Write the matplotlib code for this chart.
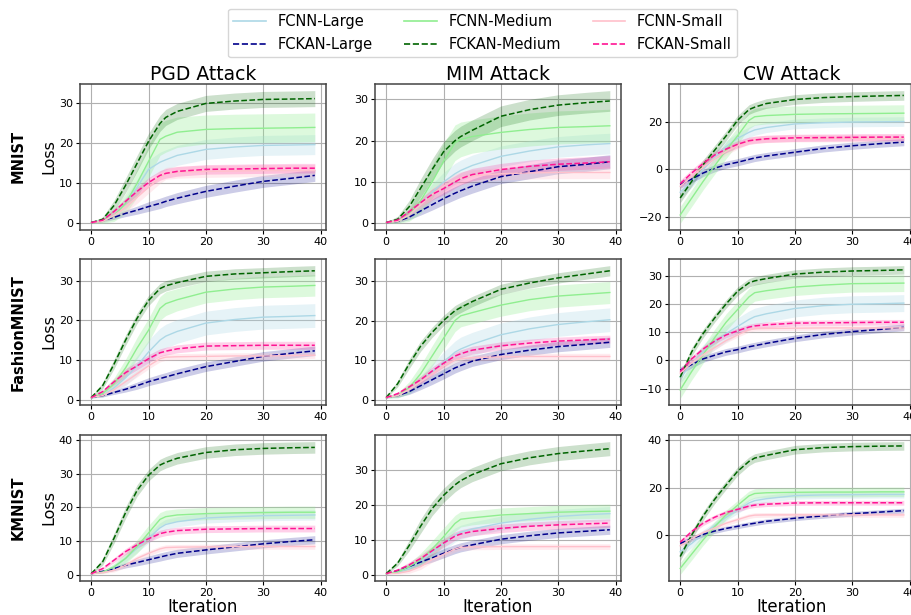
import numpy as np
import matplotlib
matplotlib.use('Agg')
import matplotlib.pyplot as plt
from matplotlib.lines import Line2D

iters = [0, 2, 4, 6, 8, 10, 12, 13, 15, 20, 25, 30, 35, 39]

series = ['FCNN-Large', 'FCKAN-Large', 'FCNN-Medium', 'FCKAN-Medium', 'FCNN-Small', 'FCKAN-Small']
datasets = ['MNIST', 'FashionMNIST', 'KMNIST']
attacks = ['PGD Attack', 'MIM Attack', 'CW Attack']

# mean loss per panel
mnist_pgd = {
    'FCNN-Large':   [0.2, 0.5, 2, 5, 9, 13.5, 15.3, 15.9, 17, 18.5, 19.1, 19.5, 19.6, 19.7],
    'FCKAN-Large':  [0.2, 0.8, 1.5, 2.5, 3.3, 4.2, 5.0, 5.5, 6.3, 8, 9.3, 10.5, 11.3, 12],
    'FCNN-Medium':  [0.2, 0.5, 2, 5, 10, 15.5, 21, 21.8, 22.8, 23.5, 23.7, 23.8, 23.9, 24],
    'FCKAN-Medium': [0.2, 1, 4.5, 9.5, 15, 20.5, 25, 26.5, 28, 30, 30.6, 31, 31.1, 31.2],
    'FCNN-Small':   [0.2, 0.5, 2, 4, 6.5, 9, 11.5, 12.5, 12.8, 13, 13.1, 13.2, 13.2, 13.2],
    'FCKAN-Small':  [0.2, 0.8, 3, 5.5, 8, 10.2, 12, 12.5, 13, 13.5, 13.6, 13.7, 13.8, 13.8],
}
mnist_mim = {
    'FCNN-Large':   [0.2, 0.5, 2, 4.5, 7.5, 10, 12, 12.8, 14, 16.2, 17.5, 18.5, 19, 19.3],
    'FCKAN-Large':  [0.2, 0.5, 1.5, 3, 4.5, 6, 7.3, 7.9, 9, 11.3, 12.5, 13.7, 14.3, 14.9],
    'FCNN-Medium':  [0.2, 0.5, 2, 5.5, 10, 15, 19.5, 20.3, 21, 22, 22.7, 23.2, 23.4, 23.6],
    'FCKAN-Medium': [0.2, 1, 4, 8.5, 13, 17.3, 20, 21, 22.5, 25.9, 27.5, 28.6, 29.2, 29.6],
    'FCNN-Small':   [0.2, 0.5, 2, 4.5, 7, 9, 10.5, 11, 11.5, 12, 12.2, 12.3, 12.3, 12.3],
    'FCKAN-Small':  [0.2, 0.8, 2.8, 5, 7, 8.4, 10, 10.8, 11.8, 13, 13.8, 14.3, 14.6, 14.9],
}
mnist_cw = {
    'FCNN-Large':   [-9.5, -5, 0, 5, 9.5, 13, 15.5, 16.5, 17.5, 19, 19.5, 19.8, 19.9, 20],
    'FCKAN-Large':  [-6.3, -4, -1.5, 0.5, 2, 3, 4.2, 4.8, 5.6, 7.2, 8.8, 9.9, 10.8, 11.4],
    'FCNN-Medium':  [-19, -12, -5, 1.5, 8, 14, 20.5, 22, 22.5, 23, 23.2, 23.3, 23.4, 23.5],
    'FCKAN-Medium': [-11.9, -5, 2, 8, 14, 20.5, 25, 26, 27.5, 29.2, 30, 30.4, 30.7, 30.9],
    'FCNN-Small':   [-7, -3, 1, 4.5, 7.5, 10, 12, 12.5, 12.7, 13, 13, 13, 13, 13],
    'FCKAN-Small':  [-6, -1.5, 2.5, 6, 8.5, 10.5, 12, 12.3, 12.8, 13.2, 13.3, 13.4, 13.5, 13.5],
}
fmnist_pgd = {
    'FCNN-Large':   [0.5, 1, 3, 5.5, 8.5, 12, 15, 16, 17.2, 19.3, 20.2, 20.8, 21, 21.2],
    'FCKAN-Large':  [0.5, 1, 1.8, 2.6, 3.5, 4.5, 5.3, 5.7, 6.5, 8.3, 9.6, 10.9, 11.7, 12.3],
    'FCNN-Medium':  [0.5, 1.5, 4, 8, 13, 17.5, 23, 24.2, 25.2, 27.1, 27.9, 28.4, 28.6, 28.8],
    'FCKAN-Medium': [0.5, 3.5, 9, 15, 20.5, 25, 28, 28.7, 29.5, 31.1, 31.7, 32, 32.3, 32.5],
    'FCNN-Small':   [0.5, 1, 2.5, 4.5, 6.5, 8.5, 10.3, 10.7, 10.8, 10.9, 11, 11, 11.1, 11.2],
    'FCKAN-Small':  [0.5, 2, 4.5, 6.8, 8.5, 10.3, 11.8, 12.2, 12.8, 13.5, 13.6, 13.7, 13.7, 13.7],
}
fmnist_mim = {
    'FCNN-Large':   [0.5, 1, 2.5, 4.5, 7, 9.5, 12, 12.8, 14, 16.4, 17.9, 19, 19.7, 20.2],
    'FCKAN-Large':  [0.5, 1, 2, 3.5, 5, 6.5, 8, 8.6, 9.7, 11.4, 12.5, 13.4, 14, 14.5],
    'FCNN-Medium':  [0.5, 1, 3, 6.5, 11, 15.5, 20, 21.2, 22, 23.9, 25.3, 26.2, 26.7, 27.1],
    'FCKAN-Medium': [0.5, 4, 9, 13.5, 17, 20, 22.5, 23.3, 24.8, 27.9, 29.5, 30.8, 31.8, 32.6],
    'FCNN-Small':   [0.5, 1, 2.5, 4.5, 6.5, 8.5, 10, 10.3, 10.6, 10.8, 10.9, 10.9, 10.9, 10.9],
    'FCKAN-Small':  [0.5, 1.5, 3.2, 5, 7.2, 9.2, 11, 11.6, 12.5, 13.6, 14.3, 14.8, 15.1, 15.3],
}
fmnist_cw = {
    'FCNN-Large':   [-6, -1.5, 3, 6.5, 9.5, 12, 14.5, 15.5, 16.5, 18.4, 19.4, 19.9, 20.1, 20.3],
    'FCKAN-Large':  [-3.5, -1.5, 0.5, 1.8, 3, 3.8, 4.8, 5.2, 6, 7.8, 9.2, 10.2, 11, 11.7],
    'FCNN-Medium':  [-10.5, -4, 2, 8, 13.5, 18, 22.5, 24, 24.7, 26, 26.7, 27.2, 27.3, 27.4],
    'FCKAN-Medium': [-6, 3, 9.5, 15, 20, 24.5, 27.5, 28.2, 29, 30.6, 31.3, 31.7, 31.9, 32.1],
    'FCNN-Small':   [-4.5, -1, 2, 4.5, 7, 9, 10.8, 11.2, 11.3, 11.4, 11.5, 11.5, 11.5, 11.5],
    'FCKAN-Small':  [-4, 0.5, 4, 6.8, 9, 10.5, 11.8, 12.2, 12.6, 13.2, 13.3, 13.4, 13.5, 13.5],
}
kmnist_pgd = {
    'FCNN-Large':   [0.5, 1, 2.5, 5, 8, 11, 14, 15, 15.8, 16.9, 17.3, 17.6, 17.7, 17.8],
    'FCKAN-Large':  [0.5, 1.2, 2, 3, 3.8, 4.6, 5.4, 5.8, 6.5, 7.5, 8.4, 9.3, 10, 10.5],
    'FCNN-Medium':  [0.5, 1, 2.5, 5, 8.5, 12.5, 16.5, 17.3, 17.8, 18.2, 18.4, 18.5, 18.6, 18.6],
    'FCKAN-Medium': [0.5, 4, 11, 18.5, 25, 29.5, 32.5, 33.3, 34.5, 36.2, 37, 37.4, 37.6, 37.7],
    'FCNN-Small':   [0.5, 0.8, 1.5, 3, 5, 6.5, 7.8, 8.2, 8.3, 8.4, 8.5, 8.5, 8.5, 8.5],
    'FCKAN-Small':  [0.5, 2, 4.5, 7, 9, 10.8, 12.3, 12.7, 13.2, 13.6, 13.7, 13.8, 13.8, 13.8],
}
kmnist_mim = {
    'FCNN-Large':   [0.5, 1, 2, 4, 6.5, 9, 11.5, 12.3, 13.2, 14.9, 16, 16.8, 17.3, 17.6],
    'FCKAN-Large':  [0.5, 1.3, 2.5, 3.8, 5, 6.3, 7.5, 8, 8.7, 10.3, 11.3, 12.1, 12.6, 13],
    'FCNN-Medium':  [0.5, 1, 2.5, 4.5, 7.5, 11, 14.8, 16, 16.4, 17.2, 17.6, 18, 18.2, 18.3],
    'FCKAN-Medium': [0.5, 3.5, 8.5, 14, 19, 22.8, 25.8, 27, 28.7, 31.8, 33.5, 34.7, 35.5, 36.1],
    'FCNN-Small':   [0.5, 0.6, 1.2, 2.5, 4.5, 6, 7.5, 8, 8.1, 8.2, 8.2, 8.2, 8.2, 8.2],
    'FCKAN-Small':  [0.5, 1.5, 3, 4.8, 7, 9.2, 11.2, 11.8, 12.5, 13.4, 14, 14.4, 14.7, 14.9],
}
kmnist_cw = {
    'FCNN-Large':   [-7, -3.5, 0.5, 4, 7.5, 10.5, 13.5, 14.5, 15.3, 16.6, 16.9, 17, 17.1, 17.1],
    'FCKAN-Large':  [-3.5, -1.5, 0.3, 1.7, 2.8, 3.7, 4.6, 5, 5.8, 7.1, 8.1, 9, 9.7, 10.3],
    'FCNN-Medium':  [-14, -8, -2, 3.5, 8.5, 12.5, 16.5, 17.5, 17.8, 18, 18.1, 18.1, 18.2, 18.2],
    'FCKAN-Medium': [-9, 0, 8, 15, 21, 26.8, 31, 32.4, 33.5, 35.9, 36.8, 37.2, 37.4, 37.5],
    'FCNN-Small':   [-4.5, -1.5, 1, 3, 5, 6.5, 8, 8.4, 8.5, 8.5, 8.5, 8.5, 8.5, 8.5],
    'FCKAN-Small':  [-3, 1.5, 5, 7.5, 9.5, 10.8, 12.2, 12.6, 13, 13.5, 13.6, 13.6, 13.6, 13.6],
}

# std (half width of shaded band) per panel
mnist_pgd_std = {
    'FCNN-Large':   [0.1, 0.4, 1, 1.5, 2, 2.3, 2.5, 2.5, 2.5, 2.5, 2.5, 2.5, 2.5, 2.5],
    'FCKAN-Large':  [0.1, 0.3, 0.5, 0.8, 1, 1.2, 1.3, 1.3, 1.4, 1.5, 1.5, 1.5, 1.5, 1.5],
    'FCNN-Medium':  [0.1, 0.5, 1.5, 2.5, 3.5, 4, 4, 4, 3.8, 3.6, 3.6, 3.6, 3.6, 3.6],
    'FCKAN-Medium': [0.1, 0.6, 1.3, 1.8, 2, 2, 2, 2, 2, 2, 2, 2, 2, 2],
    'FCNN-Small':   [0.1, 0.3, 0.8, 1.2, 1.5, 1.5, 1.5, 1.5, 1.5, 1.5, 1.5, 1.5, 1.5, 1.5],
    'FCKAN-Small':  [0.1, 0.3, 0.6, 0.8, 1, 1.2, 1.2, 1.2, 1.2, 1.2, 1.2, 1.2, 1.2, 1.2],
}
mnist_mim_std = {
    'FCNN-Large':   [0.1, 0.4, 1, 1.5, 2, 2.3, 2.5, 2.5, 2.5, 2.5, 2.5, 2.5, 2.5, 2.5],
    'FCKAN-Large':  [0.1, 0.3, 0.6, 1, 1.3, 1.5, 1.6, 1.6, 1.7, 1.7, 1.7, 1.7, 1.7, 1.7],
    'FCNN-Medium':  [0.1, 0.5, 1.5, 3, 4, 4.3, 4.3, 4.2, 4, 4, 4, 4, 4, 4],
    'FCKAN-Medium': [0.1, 0.7, 1.5, 2.2, 2.5, 2.5, 2.5, 2.5, 2.5, 2.5, 2.5, 2.5, 2.5, 2.5],
    'FCNN-Small':   [0.1, 0.3, 0.8, 1.2, 1.5, 1.5, 1.5, 1.5, 1.5, 1.5, 1.5, 1.5, 1.5, 1.5],
    'FCKAN-Small':  [0.1, 0.3, 0.6, 1, 1.3, 1.5, 1.5, 1.5, 1.5, 1.5, 1.5, 1.5, 1.5, 1.5],
}
mnist_cw_std = {
    'FCNN-Large':   [2.5, 2.5, 2.5, 2.5, 2.5, 2.3, 2.2, 2.2, 2.1, 2, 2, 2, 2, 2],
    'FCKAN-Large':  [1.5, 1.5, 1.5, 1.5, 1.5, 1.5, 1.5, 1.5, 1.5, 1.5, 1.5, 1.5, 1.5, 1.5],
    'FCNN-Medium':  [3.5, 3.5, 3.5, 3.5, 3.5, 3.5, 3.5, 3.5, 3.5, 3.5, 3.5, 3.5, 3.5, 3.5],
    'FCKAN-Medium': [2, 2, 2, 2, 2, 2, 2, 2, 2, 2, 2, 2, 2, 2],
    'FCNN-Small':   [1.5, 1.5, 1.5, 1.5, 1.5, 1.5, 1.5, 1.5, 1.5, 1.5, 1.5, 1.5, 1.5, 1.5],
    'FCKAN-Small':  [1.5, 1.5, 1.5, 1.5, 1.5, 1.5, 1.5, 1.5, 1.5, 1.5, 1.5, 1.5, 1.5, 1.5],
}
fmnist_pgd_std = {
    'FCNN-Large':   [0.1, 0.5, 1.2, 2, 2.5, 3, 3, 3, 3, 3, 3, 3, 3, 3],
    'FCKAN-Large':  [0.1, 0.3, 0.5, 0.7, 0.9, 1, 1.1, 1.1, 1.2, 1.2, 1.2, 1.2, 1.2, 1.2],
    'FCNN-Medium':  [0.1, 0.8, 1.5, 2.2, 2.7, 3, 3, 3, 2.8, 2.7, 2.7, 2.7, 2.7, 2.7],
    'FCKAN-Medium': [0.2, 0.8, 1.2, 1.3, 1.3, 1.3, 1.3, 1.3, 1.3, 1.3, 1.3, 1.3, 1.3, 1.3],
    'FCNN-Small':   [0.1, 0.3, 0.5, 0.7, 0.8, 0.8, 0.8, 0.8, 0.8, 0.8, 0.8, 0.8, 0.8, 0.8],
    'FCKAN-Small':  [0.1, 0.5, 0.8, 1, 1, 1, 1, 1, 1, 1, 1, 1, 1, 1],
}
fmnist_mim_std = {
    'FCNN-Large':   [0.1, 0.5, 1, 1.5, 2, 2.5, 2.8, 3, 3, 3, 3, 3, 3, 3],
    'FCKAN-Large':  [0.1, 0.4, 0.7, 1, 1.2, 1.3, 1.3, 1.3, 1.3, 1.3, 1.3, 1.3, 1.3, 1.3],
    'FCNN-Medium':  [0.1, 0.6, 1.5, 2.2, 2.6, 2.8, 2.8, 2.8, 2.8, 2.8, 2.8, 2.8, 2.8, 2.8],
    'FCKAN-Medium': [0.2, 0.8, 1.2, 1.3, 1.3, 1.3, 1.3, 1.3, 1.3, 1.3, 1.3, 1.3, 1.3, 1.3],
    'FCNN-Small':   [0.1, 0.3, 0.5, 0.7, 0.8, 0.8, 0.8, 0.8, 0.8, 0.8, 0.8, 0.8, 0.8, 0.8],
    'FCKAN-Small':  [0.1, 0.4, 0.7, 0.9, 1, 1, 1, 1, 1, 1, 1, 1, 1, 1],
}
fmnist_cw_std = {
    'FCNN-Large':   [2, 2.2, 2.5, 2.8, 3, 3, 3, 3, 3, 3, 3, 3, 3, 3],
    'FCKAN-Large':  [1.2, 1.2, 1.2, 1.2, 1.2, 1.2, 1.2, 1.2, 1.2, 1.2, 1.2, 1.2, 1.2, 1.2],
    'FCNN-Medium':  [3, 3, 3, 3, 3, 3, 3, 3, 3, 3, 3, 3, 3, 3],
    'FCKAN-Medium': [1.5, 1.5, 1.5, 1.5, 1.5, 1.5, 1.5, 1.5, 1.5, 1.5, 1.5, 1.5, 1.5, 1.5],
    'FCNN-Small':   [1, 1, 0.9, 0.8, 0.8, 0.8, 0.8, 0.8, 0.8, 0.8, 0.8, 0.8, 0.8, 0.8],
    'FCKAN-Small':  [1, 1, 1, 1, 1, 1, 1, 1, 1, 1, 1, 1, 1, 1],
}
kmnist_pgd_std = {
    'FCNN-Large':   [0.1, 0.3, 0.7, 1, 1.3, 1.5, 1.5, 1.5, 1.5, 1.5, 1.5, 1.5, 1.5, 1.5],
    'FCKAN-Large':  [0.1, 0.3, 0.6, 0.8, 1, 1.1, 1.2, 1.2, 1.2, 1.2, 1.2, 1.2, 1.2, 1.2],
    'FCNN-Medium':  [0.1, 0.4, 1, 1.5, 2, 2.2, 2, 1.9, 1.8, 1.8, 1.8, 1.8, 1.8, 1.8],
    'FCKAN-Medium': [0.2, 1, 1.5, 1.7, 1.7, 1.7, 1.7, 1.7, 1.7, 1.7, 1.7, 1.7, 1.7, 1.7],
    'FCNN-Small':   [0.1, 0.3, 0.5, 0.7, 0.8, 0.8, 0.8, 0.8, 0.8, 0.8, 0.8, 0.8, 0.8, 0.8],
    'FCKAN-Small':  [0.1, 0.4, 0.7, 0.9, 1, 1, 1, 1, 1, 1, 1, 1, 1, 1],
}
kmnist_mim_std = {
    'FCNN-Large':   [0.1, 0.3, 0.7, 1, 1.5, 2, 2, 2, 2, 2, 2, 2, 2, 2],
    'FCKAN-Large':  [0.1, 0.4, 0.7, 1, 1.2, 1.3, 1.3, 1.3, 1.3, 1.3, 1.3, 1.3, 1.3, 1.3],
    'FCNN-Medium':  [0.1, 0.4, 1, 1.8, 2.3, 2.5, 2.3, 2.2, 2, 2, 2, 2, 2, 2],
    'FCKAN-Medium': [0.2, 0.8, 1.5, 2, 2, 2, 2, 2, 2, 2, 2, 2, 2, 2],
    'FCNN-Small':   [0.1, 0.3, 0.6, 0.8, 0.8, 0.8, 0.8, 0.8, 0.8, 0.8, 0.8, 0.8, 0.8, 0.8],
    'FCKAN-Small':  [0.1, 0.4, 0.8, 1, 1.2, 1.2, 1.2, 1.2, 1.2, 1.2, 1.2, 1.2, 1.2, 1.2],
}
kmnist_cw_std = {
    'FCNN-Large':   [2, 1.8, 1.6, 1.5, 1.5, 1.5, 1.5, 1.5, 1.5, 1.5, 1.5, 1.5, 1.5, 1.5],
    'FCKAN-Large':  [1, 1, 1, 1, 1, 1, 1, 1, 1, 1, 1, 1, 1, 1],
    'FCNN-Medium':  [2.5, 2.5, 2.3, 2.2, 2, 2, 2, 2, 2, 2, 2, 2, 2, 2],
    'FCKAN-Medium': [1.8, 1.8, 1.8, 1.8, 1.8, 1.8, 1.8, 1.8, 1.8, 1.8, 1.8, 1.8, 1.8, 1.8],
    'FCNN-Small':   [1, 1, 1, 1, 1, 1, 1, 1, 1, 1, 1, 1, 1, 1],
    'FCKAN-Small':  [1, 1, 1, 1, 1, 1, 1, 1, 1, 1, 1, 1, 1, 1],
}

means = [[mnist_pgd, mnist_mim, mnist_cw],
         [fmnist_pgd, fmnist_mim, fmnist_cw],
         [kmnist_pgd, kmnist_mim, kmnist_cw]]
stds = [[mnist_pgd_std, mnist_mim_std, mnist_cw_std],
        [fmnist_pgd_std, fmnist_mim_std, fmnist_cw_std],
        [kmnist_pgd_std, kmnist_mim_std, kmnist_cw_std]]

colors = {
    'FCNN-Large': 'lightblue', 'FCKAN-Large': 'darkblue',
    'FCNN-Medium': 'lightgreen', 'FCKAN-Medium': 'darkgreen',
    'FCNN-Small': 'pink', 'FCKAN-Small': 'deeppink',
}

fig = plt.figure(figsize=(9.12, 6.15), dpi=100)

col_left = [80 / 912, 375 / 912, 669 / 912]
row_bottom = [1 - 230 / 615, 1 - 405 / 615, 1 - 581 / 615]
ax_w = 246 / 912
ax_h = 146 / 615

for i in range(3):
    for j in range(3):
        ax = fig.add_axes([col_left[j], row_bottom[i], ax_w, ax_h])
        for s in series:
            m = np.array(means[i][j][s])
            sd = np.array(stds[i][j][s])
            kan = s.startswith('FCKAN')
            ax.plot(iters, m, color=colors[s], linestyle='--' if kan else '-',
                    linewidth=1.1 if kan else 1.0, zorder=3)
            ax.fill_between(iters, m - sd, m + sd, color=colors[s],
                            alpha=0.2 if kan else 0.3, linewidth=0, zorder=2)
        ax.grid(True, color='#b0b0b0', linewidth=0.8)
        ax.set_axisbelow(True)
        ax.set_xticks([0, 10, 20, 30, 40])
        ax.tick_params(labelsize=8, length=3, pad=2)
        for sp in ax.spines.values():
            sp.set_color('#444444')
            sp.set_linewidth(1.1)
        if i == 0:
            ax.set_title(attacks[j], fontsize=13.5, pad=3)
        if j == 0:
            ax.set_ylabel('Loss', fontsize=11.5, labelpad=2)
        if i == 2:
            ax.set_xlabel('Iteration', fontsize=12, labelpad=0)

row_y = [0.745, 0.46, 0.175]
for i, name in enumerate(datasets):
    fig.text(18 / 912, row_y[i], name, rotation=90, fontsize=10.5,
             fontweight='bold', ha='center', va='center')

handles = []
for s in series:
    kan = s.startswith('FCKAN')
    handles.append(Line2D([0], [0], color=colors[s], linestyle='--' if kan else '-',
                          linewidth=1.2))
fig.legend(handles, series, ncol=3, loc='upper center', bbox_to_anchor=(0.529, 0.998),
           fontsize=10.5, frameon=True, columnspacing=2.2, handlelength=2.2)

fig.savefig('out.png', dpi=100)
